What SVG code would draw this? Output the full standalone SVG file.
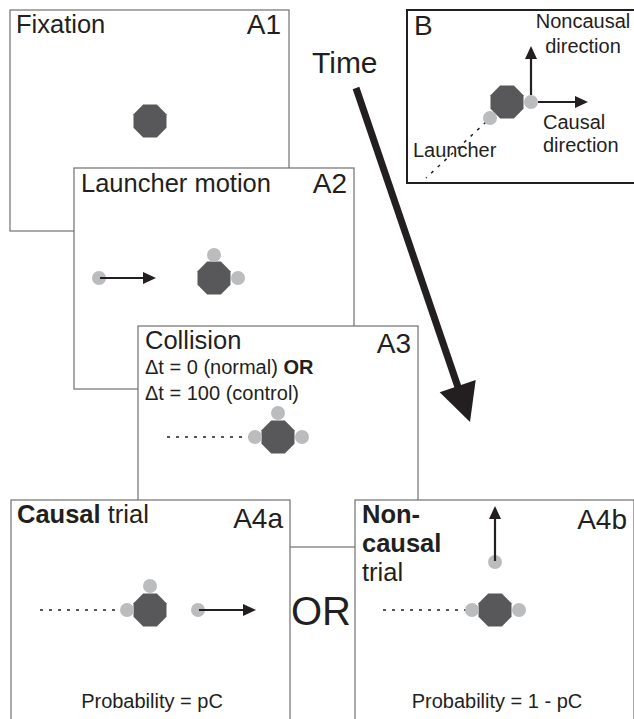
<svg xmlns="http://www.w3.org/2000/svg" width="634" height="719" viewBox="0 0 634 719">
<style>
.box{fill:#fff;stroke:#707070;stroke-width:1.2}
.t{font-family:"Liberation Sans",Arial,sans-serif;fill:#231f20}
.tt{font-size:25.5px}
.lab{font-size:28px}
.sm{font-size:20px}
.b{font-weight:bold}
.oct{fill:#58585a}
.ball{fill:#bbbcbe}
.dot{stroke:#231f20;stroke-width:1.5;stroke-dasharray:3 6;fill:none}
.ln{stroke:#231f20;stroke-width:2.2;fill:none}
.hd{fill:#231f20}
</style>
<defs>
<polygon id="oct" points="-6.83,-16.5 6.83,-16.5 16.5,-6.83 16.5,6.83 6.83,16.5 -6.83,16.5 -16.5,6.83 -16.5,-6.83"/>
</defs>
<g id="A1">
<rect class="box" x="10" y="10" width="279" height="221"/>
<text class="t tt" x="16" y="33">Fixation</text>
<text class="t lab" x="281" y="34" text-anchor="end">A1</text>
<use href="#oct" class="oct" x="150" y="121"/>
</g>
<g id="A2">
<rect class="box" x="74" y="168" width="280" height="221"/>
<text class="t tt" x="81" y="192">Launcher motion</text>
<text class="t lab" x="347" y="193" text-anchor="end">A2</text>
<use href="#oct" class="oct" x="214" y="278"/>
<circle class="ball" cx="214" cy="255" r="7"/>
<circle class="ball" cx="238" cy="278" r="7"/>
<circle class="ball" cx="99" cy="278" r="7"/>
<line class="ln" x1="100" y1="278" x2="145" y2="278"/>
<polygon class="hd" points="156,278 143,272 143,284"/>
</g>
<g id="A3">
<rect class="box" x="138" y="326" width="280" height="221"/>
<text class="t tt" x="145" y="349">Collision</text>
<text class="t lab" x="411" y="353" text-anchor="end">A3</text>
<text class="t sm" x="145" y="374">Δt = 0 (normal) <tspan class="b">OR</tspan></text>
<text class="t sm" x="145" y="400">Δt = 100 (control)</text>
<line class="dot" x1="167" y1="437" x2="250" y2="437"/>
<use href="#oct" class="oct" x="278" y="437"/>
<circle class="ball" cx="278" cy="413" r="7"/>
<circle class="ball" cx="302" cy="437" r="7"/>
<circle class="ball" cx="255" cy="437" r="7"/>
</g>
<g id="A4a">
<rect class="box" x="11" y="500" width="279" height="230"/>
<text class="t tt" x="17" y="523"><tspan class="b">Causal</tspan> trial</text>
<text class="t lab" x="283" y="528" text-anchor="end">A4a</text>
<line class="dot" x1="40" y1="610" x2="122" y2="610"/>
<use href="#oct" class="oct" x="150" y="610"/>
<circle class="ball" cx="150" cy="586" r="7"/>
<circle class="ball" cx="127" cy="610" r="7"/>
<circle class="ball" cx="198" cy="610" r="7"/>
<line class="ln" x1="199" y1="610" x2="245" y2="610"/>
<polygon class="hd" points="256,610 243,604 243,616"/>
<text class="t sm" x="152" y="708" text-anchor="middle">Probability = pC</text>
</g>
<g id="OR">
<text class="t" x="291" y="625" font-size="40">OR</text>
</g>
<g id="A4b">
<rect class="box" x="355" y="500" width="279" height="230"/>
<text class="t tt b" x="362" y="523">Non-</text>
<text class="t tt b" x="362" y="552">causal</text>
<text class="t tt" x="362" y="581">trial</text>
<text class="t lab" x="627" y="529" text-anchor="end">A4b</text>
<line class="dot" x1="383" y1="610" x2="466" y2="610"/>
<use href="#oct" class="oct" x="495" y="610"/>
<circle class="ball" cx="472" cy="610" r="7"/>
<circle class="ball" cx="519" cy="610" r="7"/>
<circle class="ball" cx="495" cy="562" r="7"/>
<line class="ln" x1="495" y1="561" x2="495" y2="517"/>
<polygon class="hd" points="495,506 489,519 501,519"/>
<text class="t sm" x="497" y="708" text-anchor="middle">Probability = 1 - pC</text>
</g>
<g id="B">
<rect x="407" y="10" width="240" height="173" fill="#fff" stroke="#231f20" stroke-width="2"/>
<text class="t lab" x="414" y="35">B</text>
<line class="dot" x1="486" y1="122" x2="426" y2="178"/>
<use href="#oct" class="oct" x="507" y="102"/>
<circle class="ball" cx="490" cy="118" r="7"/>
<circle class="ball" cx="531" cy="102" r="7"/>
<line class="ln" x1="531" y1="95" x2="531" y2="57"/>
<polygon class="hd" points="531,46 525,59 537,59"/>
<line class="ln" x1="538" y1="102" x2="577" y2="102"/>
<polygon class="hd" points="588,102 575,96 575,108"/>
<text class="t sm" x="583" y="28" text-anchor="middle">Noncausal</text>
<text class="t sm" x="583" y="53" text-anchor="middle">direction</text>
<text class="t sm" x="543" y="129">Causal</text>
<text class="t sm" x="543" y="152">direction</text>
<text class="t sm" x="413" y="157">Launcher</text>
</g>
<g id="connectors">
<text class="t" x="312" y="73" font-size="30">Time</text>
<line x1="356" y1="88" x2="459" y2="390" stroke="#231f20" stroke-width="7"/>
<polygon class="hd" points="470,422 475.7,380 439.7,392.2"/>
</g>
</svg>
